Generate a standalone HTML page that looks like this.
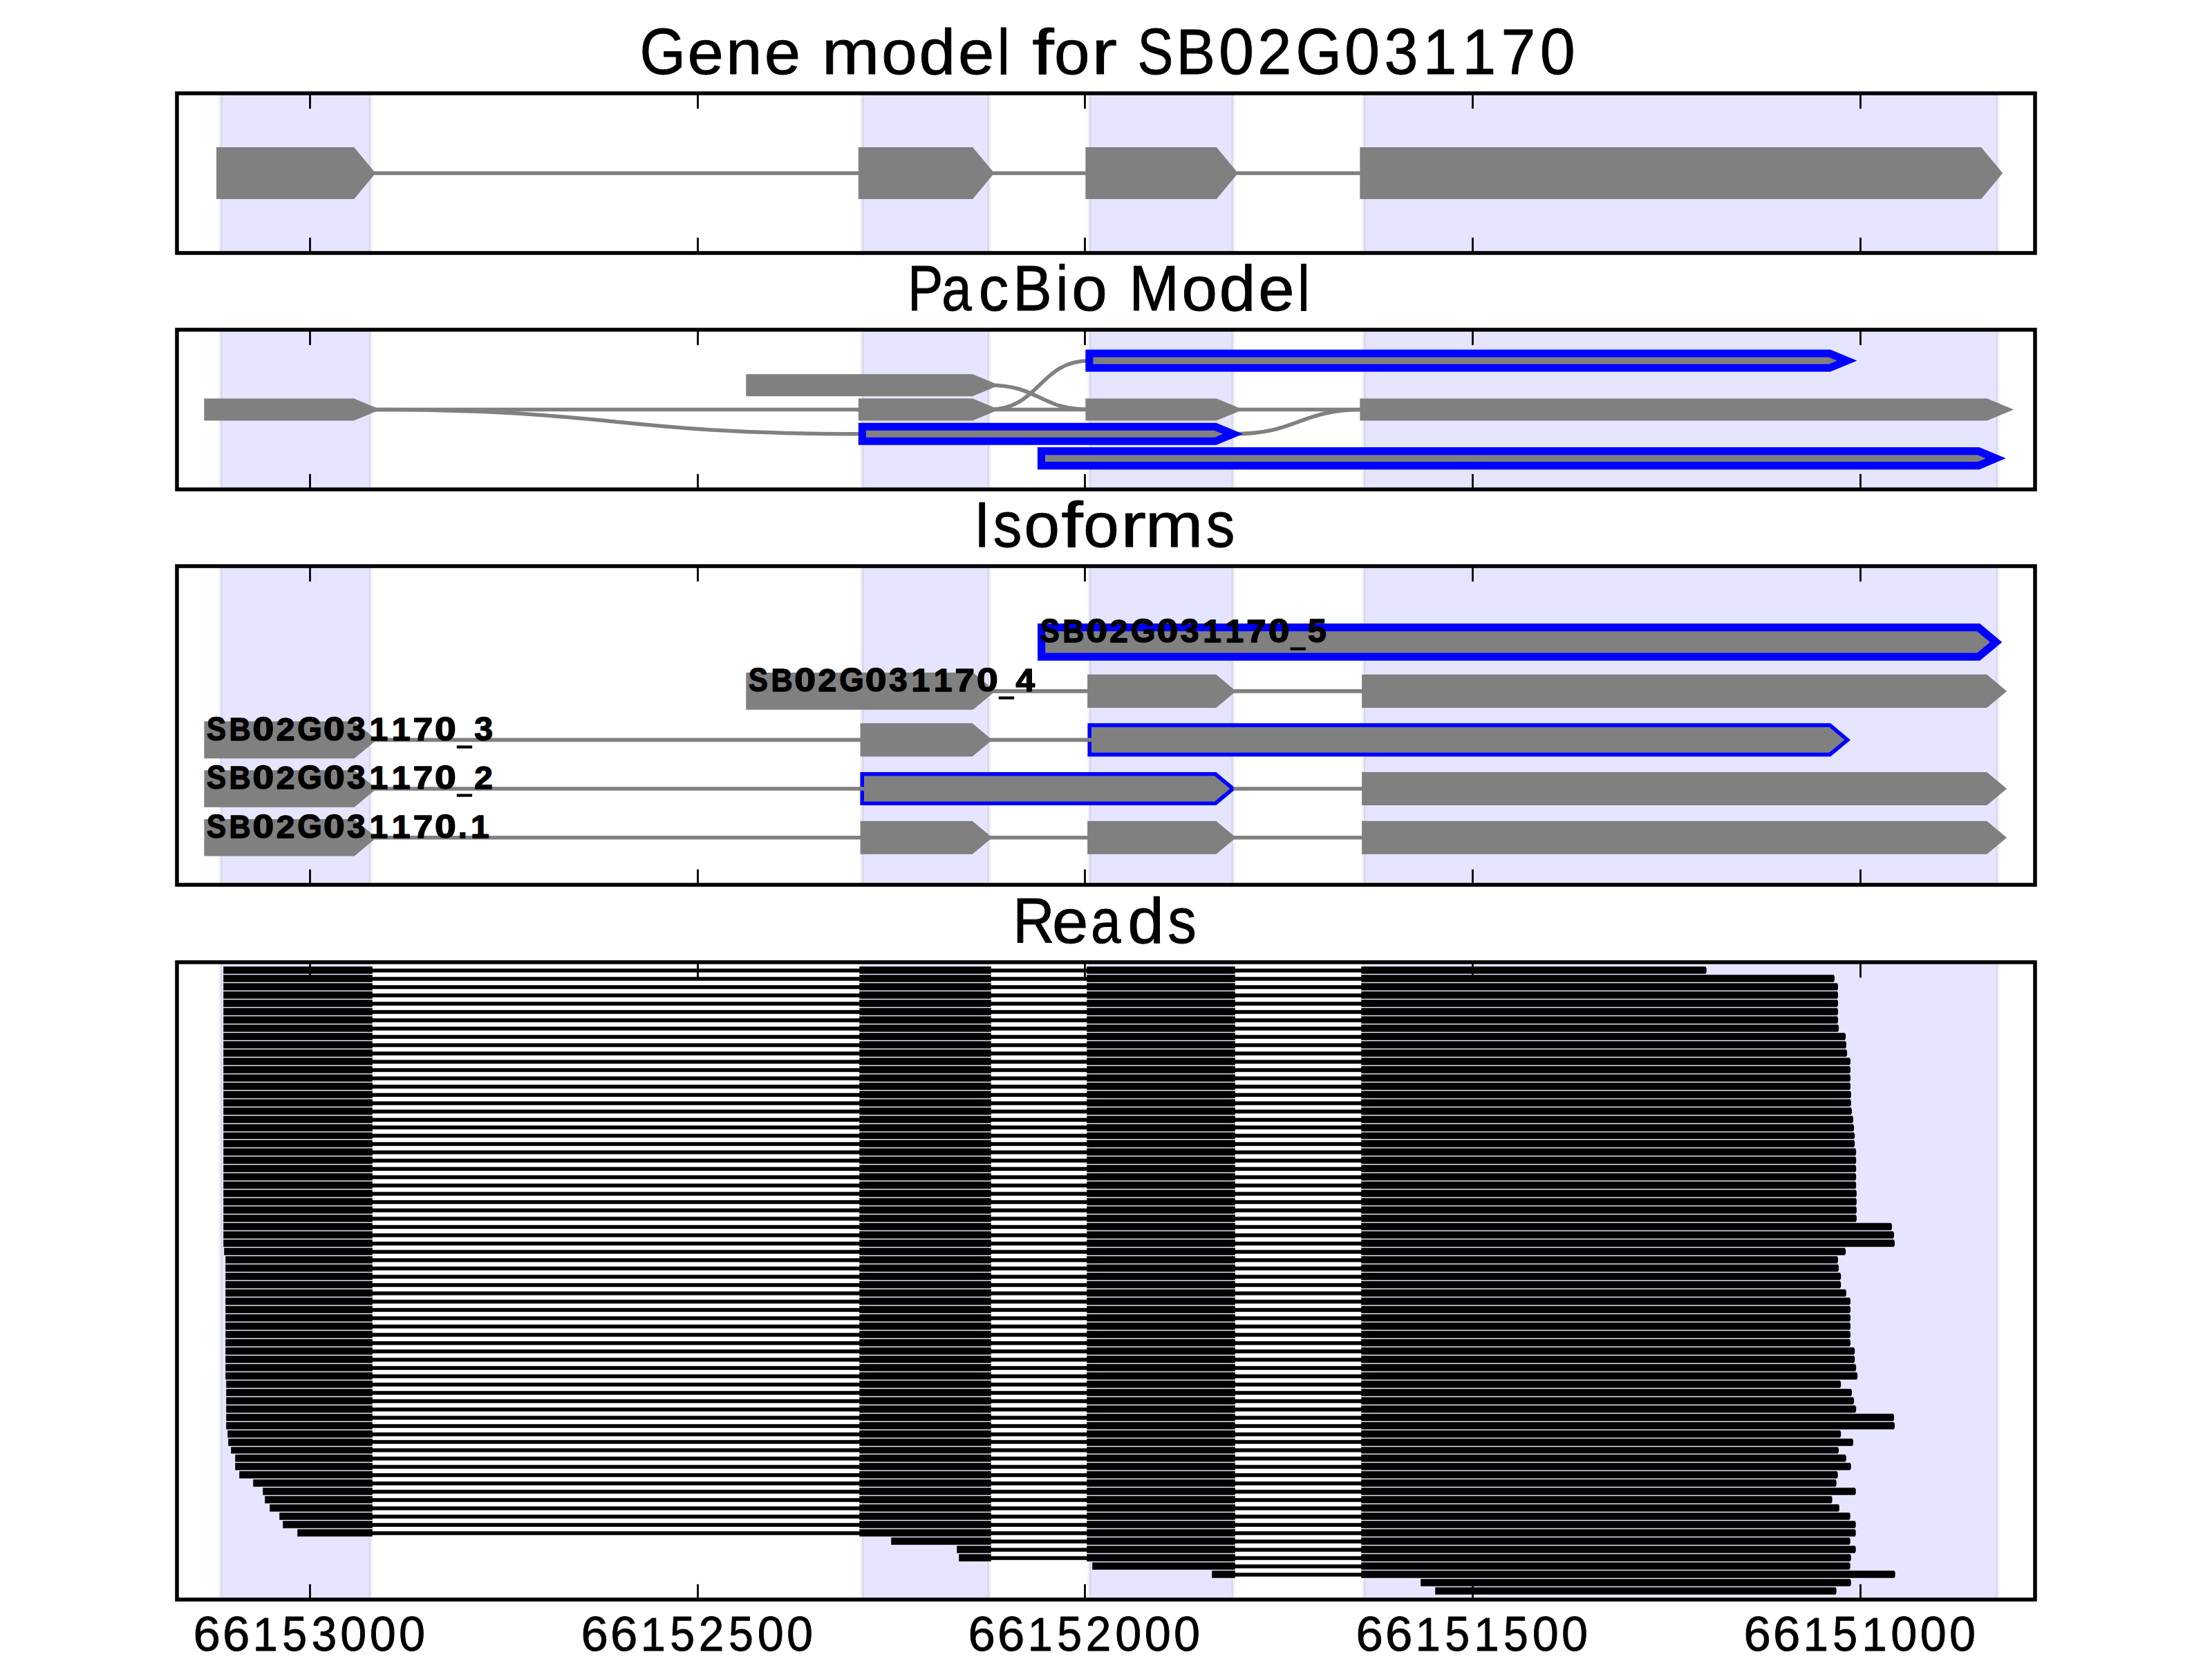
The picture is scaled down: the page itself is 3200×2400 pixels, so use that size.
<!DOCTYPE html>
<html><head><meta charset="utf-8"><title>Gene model for SB02G031170</title>
<style>html,body{margin:0;padding:0;background:#fff}svg{display:block}text{font-family:"Liberation Sans",sans-serif;fill:#000}</style></head><body>
<svg width="3200" height="2400" viewBox="0 0 3200 2400">
<rect width="3200" height="2400" fill="#fff"/>
<defs>
<clipPath id="c0"><rect x="256" y="135" width="2688" height="231"/></clipPath>
<clipPath id="c1"><rect x="256" y="477" width="2688" height="231"/></clipPath>
<clipPath id="c2"><rect x="256" y="819" width="2688" height="461"/></clipPath>
<clipPath id="c3"><rect x="256" y="1392" width="2688" height="922"/></clipPath>
</defs>
<g clip-path="url(#c0)">
<rect x="319" y="135" width="217" height="231" fill="#0000ff" fill-opacity="0.1" stroke="#000" stroke-opacity="0.05" stroke-width="5.56"/>
<rect x="1247" y="135" width="184" height="231" fill="#0000ff" fill-opacity="0.1" stroke="#000" stroke-opacity="0.05" stroke-width="5.56"/>
<rect x="1576" y="135" width="208" height="231" fill="#0000ff" fill-opacity="0.1" stroke="#000" stroke-opacity="0.05" stroke-width="5.56"/>
<rect x="1973" y="135" width="917" height="231" fill="#0000ff" fill-opacity="0.1" stroke="#000" stroke-opacity="0.05" stroke-width="5.56"/>
<path d="M536 250.5 H1247.2" fill="none" stroke="#808080" stroke-width="5.56" stroke-linecap="butt"/>
<path d="M1431 250.5 H1576.2" fill="none" stroke="#808080" stroke-width="5.56" stroke-linecap="butt"/>
<path d="M1783.8 250.5 H1973.2" fill="none" stroke="#808080" stroke-width="5.56" stroke-linecap="butt"/>
<path d="M318.6 218.6 L509.6 218.6 L536.1 250.5 L509.6 282.4 L318.6 282.4 Z" fill="#808080" stroke="#808080" stroke-width="11.11" stroke-linejoin="miter" stroke-miterlimit="10"/>
<path d="M1247.4 218.6 L1404.6 218.6 L1431.1 250.5 L1404.6 282.4 L1247.4 282.4 Z" fill="#808080" stroke="#808080" stroke-width="11.11" stroke-linejoin="miter" stroke-miterlimit="10"/>
<path d="M1575.9 218.6 L1757.3 218.6 L1783.8 250.5 L1757.3 282.4 L1575.9 282.4 Z" fill="#808080" stroke="#808080" stroke-width="11.11" stroke-linejoin="miter" stroke-miterlimit="10"/>
<path d="M1972.9 218.6 L2863.5 218.6 L2890 250.5 L2863.5 282.4 L1972.9 282.4 Z" fill="#808080" stroke="#808080" stroke-width="11.11" stroke-linejoin="miter" stroke-miterlimit="10"/>
</g>
<path d="M448.5 135 v22.22 M448.5 366 v-22.22" stroke="#000" stroke-width="2.78" fill="none"/>
<path d="M1009.5 135 v22.22 M1009.5 366 v-22.22" stroke="#000" stroke-width="2.78" fill="none"/>
<path d="M1569.5 135 v22.22 M1569.5 366 v-22.22" stroke="#000" stroke-width="2.78" fill="none"/>
<path d="M2130.5 135 v22.22 M2130.5 366 v-22.22" stroke="#000" stroke-width="2.78" fill="none"/>
<path d="M2691.5 135 v22.22 M2691.5 366 v-22.22" stroke="#000" stroke-width="2.78" fill="none"/>
<rect x="256" y="135" width="2688" height="231" fill="none" stroke="#000" stroke-width="5.56"/>
<g clip-path="url(#c1)">
<rect x="319" y="477" width="217" height="231" fill="#0000ff" fill-opacity="0.1" stroke="#000" stroke-opacity="0.05" stroke-width="5.56"/>
<rect x="1247" y="477" width="184" height="231" fill="#0000ff" fill-opacity="0.1" stroke="#000" stroke-opacity="0.05" stroke-width="5.56"/>
<rect x="1576" y="477" width="208" height="231" fill="#0000ff" fill-opacity="0.1" stroke="#000" stroke-opacity="0.05" stroke-width="5.56"/>
<rect x="1973" y="477" width="917" height="231" fill="#0000ff" fill-opacity="0.1" stroke="#000" stroke-opacity="0.05" stroke-width="5.56"/>
<path d="M536 592.5 H1247.2" fill="none" stroke="#808080" stroke-width="5.56" stroke-linecap="butt"/>
<path d="M1431 592.5 H1576.2" fill="none" stroke="#808080" stroke-width="5.56" stroke-linecap="butt"/>
<path d="M1783.8 592.5 H1973.2" fill="none" stroke="#808080" stroke-width="5.56" stroke-linecap="butt"/>
<path d="M536 592.5 C891.6 592.5 891.6 627.8 1247.2 627.8" fill="none" stroke="#808080" stroke-width="5.56"/>
<path d="M1431 557.2 C1503.6 557.2 1503.6 592.5 1576.2 592.5" fill="none" stroke="#808080" stroke-width="5.56"/>
<path d="M1431 592.5 C1503.6 592.5 1503.6 521.8 1576.2 521.8" fill="none" stroke="#808080" stroke-width="5.56"/>
<path d="M1783.8 627.8 C1878.5 627.8 1878.5 592.5 1973.2 592.5" fill="none" stroke="#808080" stroke-width="5.56"/>
<path d="M300.9 582 L510.9 582 L536.1 592.5 L510.9 603 L300.9 603 Z" fill="#808080" stroke="#808080" stroke-width="11.11" stroke-linejoin="miter" stroke-miterlimit="10"/>
<path d="M1247.4 582 L1405.9 582 L1431.1 592.5 L1405.9 603 L1247.4 603 Z" fill="#808080" stroke="#808080" stroke-width="11.11" stroke-linejoin="miter" stroke-miterlimit="10"/>
<path d="M1575.9 582 L1758.6 582 L1783.8 592.5 L1758.6 603 L1575.9 603 Z" fill="#808080" stroke="#808080" stroke-width="11.11" stroke-linejoin="miter" stroke-miterlimit="10"/>
<path d="M1972.9 582 L2873.6 582 L2898.8 592.5 L2873.6 603 L1972.9 603 Z" fill="#808080" stroke="#808080" stroke-width="11.11" stroke-linejoin="miter" stroke-miterlimit="10"/>
<path d="M1084.8 546.7 L1405.9 546.7 L1431.1 557.2 L1405.9 567.7 L1084.8 567.7 Z" fill="#808080" stroke="#808080" stroke-width="11.11" stroke-linejoin="miter" stroke-miterlimit="10"/>
<path d="M1575.85 511.3 L2646.85 511.3 L2672.05 521.8 L2646.85 532.3 L1575.85 532.3 Z" fill="#808080" stroke="#0000ff" stroke-width="11.11" stroke-linejoin="miter" stroke-miterlimit="10"/>
<path d="M1247.35 617.3 L1758.35 617.3 L1783.55 627.8 L1758.35 638.3 L1247.35 638.3 Z" fill="#808080" stroke="#0000ff" stroke-width="11.11" stroke-linejoin="miter" stroke-miterlimit="10"/>
<path d="M1506.45 652.6 L2862.15 652.6 L2887.35 663.1 L2862.15 673.6 L1506.45 673.6 Z" fill="#808080" stroke="#0000ff" stroke-width="11.11" stroke-linejoin="miter" stroke-miterlimit="10"/>
</g>
<path d="M448.5 477 v22.22 M448.5 708 v-22.22" stroke="#000" stroke-width="2.78" fill="none"/>
<path d="M1009.5 477 v22.22 M1009.5 708 v-22.22" stroke="#000" stroke-width="2.78" fill="none"/>
<path d="M1569.5 477 v22.22 M1569.5 708 v-22.22" stroke="#000" stroke-width="2.78" fill="none"/>
<path d="M2130.5 477 v22.22 M2130.5 708 v-22.22" stroke="#000" stroke-width="2.78" fill="none"/>
<path d="M2691.5 477 v22.22 M2691.5 708 v-22.22" stroke="#000" stroke-width="2.78" fill="none"/>
<rect x="256" y="477" width="2688" height="231" fill="none" stroke="#000" stroke-width="5.56"/>
<g clip-path="url(#c2)">
<rect x="319" y="819" width="217" height="461" fill="#0000ff" fill-opacity="0.1" stroke="#000" stroke-opacity="0.05" stroke-width="5.56"/>
<rect x="1247" y="819" width="184" height="461" fill="#0000ff" fill-opacity="0.1" stroke="#000" stroke-opacity="0.05" stroke-width="5.56"/>
<rect x="1576" y="819" width="208" height="461" fill="#0000ff" fill-opacity="0.1" stroke="#000" stroke-opacity="0.05" stroke-width="5.56"/>
<rect x="1973" y="819" width="917" height="461" fill="#0000ff" fill-opacity="0.1" stroke="#000" stroke-opacity="0.05" stroke-width="5.56"/>
<path d="M1506.6 907.65 L2862.15 907.65 L2887.65 928.9 L2862.15 950.15 L1506.6 950.15 Z" fill="#808080" stroke="#0000ff" stroke-width="11.11" stroke-linejoin="miter" stroke-miterlimit="10"/>
<path d="M1084.8 978.65 L1405.6 978.65 L1431.1 999.9 L1405.6 1021.15 L1084.8 1021.15 Z" fill="#808080" stroke="#808080" stroke-width="11.11" stroke-linejoin="miter" stroke-miterlimit="10"/>
<path d="M1575.9 978.65 L1758.3 978.65 L1783.8 999.9 L1758.3 1021.15 L1575.9 1021.15 Z" fill="#808080" stroke="#808080" stroke-width="5.56" stroke-linejoin="miter" stroke-miterlimit="10"/>
<path d="M1972.9 978.65 L2873.3 978.65 L2898.8 999.9 L2873.3 1021.15 L1972.9 1021.15 Z" fill="#808080" stroke="#808080" stroke-width="5.56" stroke-linejoin="miter" stroke-miterlimit="10"/>
<path d="M300.9 1049.15 L510.6 1049.15 L536.1 1070.4 L510.6 1091.65 L300.9 1091.65 Z" fill="#808080" stroke="#808080" stroke-width="11.11" stroke-linejoin="miter" stroke-miterlimit="10"/>
<path d="M1247.4 1049.15 L1405.6 1049.15 L1431.1 1070.4 L1405.6 1091.65 L1247.4 1091.65 Z" fill="#808080" stroke="#808080" stroke-width="5.56" stroke-linejoin="miter" stroke-miterlimit="10"/>
<path d="M1576.2 1049.15 L2647.2 1049.15 L2672.7 1070.4 L2647.2 1091.65 L1576.2 1091.65 Z" fill="#808080" stroke="#0000ff" stroke-width="5.56" stroke-linejoin="miter" stroke-miterlimit="10"/>
<path d="M300.9 1119.75 L510.6 1119.75 L536.1 1141 L510.6 1162.25 L300.9 1162.25 Z" fill="#808080" stroke="#808080" stroke-width="11.11" stroke-linejoin="miter" stroke-miterlimit="10"/>
<path d="M1247.2 1119.75 L1758.3 1119.75 L1783.8 1141 L1758.3 1162.25 L1247.2 1162.25 Z" fill="#808080" stroke="#0000ff" stroke-width="5.56" stroke-linejoin="miter" stroke-miterlimit="10"/>
<path d="M1972.9 1119.75 L2873.3 1119.75 L2898.8 1141 L2873.3 1162.25 L1972.9 1162.25 Z" fill="#808080" stroke="#808080" stroke-width="5.56" stroke-linejoin="miter" stroke-miterlimit="10"/>
<path d="M300.9 1190.55 L510.6 1190.55 L536.1 1211.8 L510.6 1233.05 L300.9 1233.05 Z" fill="#808080" stroke="#808080" stroke-width="11.11" stroke-linejoin="miter" stroke-miterlimit="10"/>
<path d="M1247.4 1190.55 L1405.6 1190.55 L1431.1 1211.8 L1405.6 1233.05 L1247.4 1233.05 Z" fill="#808080" stroke="#808080" stroke-width="5.56" stroke-linejoin="miter" stroke-miterlimit="10"/>
<path d="M1575.9 1190.55 L1758.3 1190.55 L1783.8 1211.8 L1758.3 1233.05 L1575.9 1233.05 Z" fill="#808080" stroke="#808080" stroke-width="5.56" stroke-linejoin="miter" stroke-miterlimit="10"/>
<path d="M1972.9 1190.55 L2873.3 1190.55 L2898.8 1211.8 L2873.3 1233.05 L1972.9 1233.05 Z" fill="#808080" stroke="#808080" stroke-width="5.56" stroke-linejoin="miter" stroke-miterlimit="10"/>
<path d="M1431.6 999.9 H1579" fill="none" stroke="#808080" stroke-width="5.56" stroke-linecap="butt"/>
<path d="M1784.4 999.9 H1976" fill="none" stroke="#808080" stroke-width="5.56" stroke-linecap="butt"/>
<path d="M536.6 1070.4 H1250" fill="none" stroke="#808080" stroke-width="5.56" stroke-linecap="butt"/>
<path d="M1431.6 1070.4 H1579" fill="none" stroke="#808080" stroke-width="5.56" stroke-linecap="butt"/>
<path d="M536.6 1141 H1250" fill="none" stroke="#808080" stroke-width="5.56" stroke-linecap="butt"/>
<path d="M1784.4 1141 H1976" fill="none" stroke="#808080" stroke-width="5.56" stroke-linecap="butt"/>
<path d="M536.6 1211.8 H1250" fill="none" stroke="#808080" stroke-width="5.56" stroke-linecap="butt"/>
<path d="M1431.6 1211.8 H1579" fill="none" stroke="#808080" stroke-width="5.56" stroke-linecap="butt"/>
<path d="M1784.4 1211.8 H1976" fill="none" stroke="#808080" stroke-width="5.56" stroke-linecap="butt"/>
<text font-weight="bold" stroke="#000" stroke-width="1.5" stroke-linejoin="round"><tspan x="1504.64" y="929.24" font-size="47.34" textLength="27.98" lengthAdjust="spacingAndGlyphs">S</tspan><tspan x="1537.24" y="929.05" font-size="46.88" textLength="31.12" lengthAdjust="spacingAndGlyphs">B</tspan><tspan x="1571.19" y="929.24" font-size="47.34" textLength="30.74" lengthAdjust="spacingAndGlyphs">0</tspan><tspan x="1605.38" y="929.05" font-size="47.07" textLength="26.6" lengthAdjust="spacingAndGlyphs">2</tspan><tspan x="1636.03" y="929.24" font-size="47.34" textLength="35.48" lengthAdjust="spacingAndGlyphs">G</tspan><tspan x="1673.63" y="929.24" font-size="47.34" textLength="30.74" lengthAdjust="spacingAndGlyphs">0</tspan><tspan x="1707.8" y="929.18" font-size="47.24" textLength="26.78" lengthAdjust="spacingAndGlyphs">3</tspan><tspan x="1740.23" y="929.05" font-size="46.88" textLength="26.66" lengthAdjust="spacingAndGlyphs">1</tspan><tspan x="1772.45" y="929.05" font-size="46.88" textLength="26.66" lengthAdjust="spacingAndGlyphs">1</tspan><tspan x="1803.36" y="929.05" font-size="46.88" textLength="28.37" lengthAdjust="spacingAndGlyphs">7</tspan><tspan x="1834.7" y="929.24" font-size="47.34" textLength="30.74" lengthAdjust="spacingAndGlyphs">0</tspan><tspan x="1867.26" y="931.01" font-size="73.4" textLength="20.95" lengthAdjust="spacingAndGlyphs">_</tspan><tspan x="1892.13" y="929.25" font-size="47.16" textLength="26.73" lengthAdjust="spacingAndGlyphs">5</tspan></text>
<text font-weight="bold" stroke="#000" stroke-width="1.5" stroke-linejoin="round"><tspan x="1082.84" y="1000.24" font-size="47.34" textLength="27.98" lengthAdjust="spacingAndGlyphs">S</tspan><tspan x="1115.44" y="1000.05" font-size="46.88" textLength="31.12" lengthAdjust="spacingAndGlyphs">B</tspan><tspan x="1149.39" y="1000.24" font-size="47.34" textLength="30.74" lengthAdjust="spacingAndGlyphs">0</tspan><tspan x="1183.58" y="1000.05" font-size="47.07" textLength="26.6" lengthAdjust="spacingAndGlyphs">2</tspan><tspan x="1214.23" y="1000.24" font-size="47.34" textLength="35.48" lengthAdjust="spacingAndGlyphs">G</tspan><tspan x="1251.83" y="1000.24" font-size="47.34" textLength="30.74" lengthAdjust="spacingAndGlyphs">0</tspan><tspan x="1286" y="1000.18" font-size="47.24" textLength="26.78" lengthAdjust="spacingAndGlyphs">3</tspan><tspan x="1318.43" y="1000.05" font-size="46.88" textLength="26.66" lengthAdjust="spacingAndGlyphs">1</tspan><tspan x="1350.65" y="1000.05" font-size="46.88" textLength="26.66" lengthAdjust="spacingAndGlyphs">1</tspan><tspan x="1381.56" y="1000.05" font-size="46.88" textLength="28.37" lengthAdjust="spacingAndGlyphs">7</tspan><tspan x="1412.9" y="1000.24" font-size="47.34" textLength="30.74" lengthAdjust="spacingAndGlyphs">0</tspan><tspan x="1445.46" y="1002.01" font-size="73.4" textLength="20.95" lengthAdjust="spacingAndGlyphs">_</tspan><tspan x="1469.57" y="1000.05" font-size="46.88" textLength="27.53" lengthAdjust="spacingAndGlyphs">4</tspan></text>
<text font-weight="bold" stroke="#000" stroke-width="1.5" stroke-linejoin="round"><tspan x="298.94" y="1070.74" font-size="47.34" textLength="27.98" lengthAdjust="spacingAndGlyphs">S</tspan><tspan x="331.54" y="1070.55" font-size="46.88" textLength="31.12" lengthAdjust="spacingAndGlyphs">B</tspan><tspan x="365.49" y="1070.74" font-size="47.34" textLength="30.74" lengthAdjust="spacingAndGlyphs">0</tspan><tspan x="399.68" y="1070.55" font-size="47.07" textLength="26.6" lengthAdjust="spacingAndGlyphs">2</tspan><tspan x="430.33" y="1070.74" font-size="47.34" textLength="35.48" lengthAdjust="spacingAndGlyphs">G</tspan><tspan x="467.93" y="1070.74" font-size="47.34" textLength="30.74" lengthAdjust="spacingAndGlyphs">0</tspan><tspan x="502.1" y="1070.68" font-size="47.24" textLength="26.78" lengthAdjust="spacingAndGlyphs">3</tspan><tspan x="534.53" y="1070.55" font-size="46.88" textLength="26.66" lengthAdjust="spacingAndGlyphs">1</tspan><tspan x="566.75" y="1070.55" font-size="46.88" textLength="26.66" lengthAdjust="spacingAndGlyphs">1</tspan><tspan x="597.66" y="1070.55" font-size="46.88" textLength="28.37" lengthAdjust="spacingAndGlyphs">7</tspan><tspan x="629" y="1070.74" font-size="47.34" textLength="30.74" lengthAdjust="spacingAndGlyphs">0</tspan><tspan x="661.56" y="1072.51" font-size="73.4" textLength="20.95" lengthAdjust="spacingAndGlyphs">_</tspan><tspan x="686.33" y="1070.68" font-size="47.24" textLength="26.78" lengthAdjust="spacingAndGlyphs">3</tspan></text>
<text font-weight="bold" stroke="#000" stroke-width="1.5" stroke-linejoin="round"><tspan x="298.94" y="1141.34" font-size="47.34" textLength="27.98" lengthAdjust="spacingAndGlyphs">S</tspan><tspan x="331.54" y="1141.15" font-size="46.88" textLength="31.12" lengthAdjust="spacingAndGlyphs">B</tspan><tspan x="365.49" y="1141.34" font-size="47.34" textLength="30.74" lengthAdjust="spacingAndGlyphs">0</tspan><tspan x="399.68" y="1141.15" font-size="47.07" textLength="26.6" lengthAdjust="spacingAndGlyphs">2</tspan><tspan x="430.33" y="1141.34" font-size="47.34" textLength="35.48" lengthAdjust="spacingAndGlyphs">G</tspan><tspan x="467.93" y="1141.34" font-size="47.34" textLength="30.74" lengthAdjust="spacingAndGlyphs">0</tspan><tspan x="502.1" y="1141.28" font-size="47.24" textLength="26.78" lengthAdjust="spacingAndGlyphs">3</tspan><tspan x="534.53" y="1141.15" font-size="46.88" textLength="26.66" lengthAdjust="spacingAndGlyphs">1</tspan><tspan x="566.75" y="1141.15" font-size="46.88" textLength="26.66" lengthAdjust="spacingAndGlyphs">1</tspan><tspan x="597.66" y="1141.15" font-size="46.88" textLength="28.37" lengthAdjust="spacingAndGlyphs">7</tspan><tspan x="629" y="1141.34" font-size="47.34" textLength="30.74" lengthAdjust="spacingAndGlyphs">0</tspan><tspan x="661.56" y="1143.11" font-size="73.4" textLength="20.95" lengthAdjust="spacingAndGlyphs">_</tspan><tspan x="686.34" y="1141.15" font-size="47.07" textLength="26.6" lengthAdjust="spacingAndGlyphs">2</tspan></text>
<text font-weight="bold" stroke="#000" stroke-width="1.5" stroke-linejoin="round"><tspan x="298.94" y="1212.14" font-size="47.34" textLength="27.98" lengthAdjust="spacingAndGlyphs">S</tspan><tspan x="331.54" y="1211.95" font-size="46.88" textLength="31.12" lengthAdjust="spacingAndGlyphs">B</tspan><tspan x="365.49" y="1212.14" font-size="47.34" textLength="30.74" lengthAdjust="spacingAndGlyphs">0</tspan><tspan x="399.68" y="1211.95" font-size="47.07" textLength="26.6" lengthAdjust="spacingAndGlyphs">2</tspan><tspan x="430.33" y="1212.14" font-size="47.34" textLength="35.48" lengthAdjust="spacingAndGlyphs">G</tspan><tspan x="467.93" y="1212.14" font-size="47.34" textLength="30.74" lengthAdjust="spacingAndGlyphs">0</tspan><tspan x="502.1" y="1212.08" font-size="47.24" textLength="26.78" lengthAdjust="spacingAndGlyphs">3</tspan><tspan x="534.53" y="1211.95" font-size="46.88" textLength="26.66" lengthAdjust="spacingAndGlyphs">1</tspan><tspan x="566.75" y="1211.95" font-size="46.88" textLength="26.66" lengthAdjust="spacingAndGlyphs">1</tspan><tspan x="597.66" y="1211.95" font-size="46.88" textLength="28.37" lengthAdjust="spacingAndGlyphs">7</tspan><tspan x="629" y="1212.14" font-size="47.34" textLength="30.74" lengthAdjust="spacingAndGlyphs">0</tspan><tspan x="662.72" y="1211.95" font-size="48.68" textLength="13.07" lengthAdjust="spacingAndGlyphs">.</tspan><tspan x="680.98" y="1211.95" font-size="46.88" textLength="26.66" lengthAdjust="spacingAndGlyphs">1</tspan></text>
</g>
<path d="M448.5 819 v22.22 M448.5 1280 v-22.22" stroke="#000" stroke-width="2.78" fill="none"/>
<path d="M1009.5 819 v22.22 M1009.5 1280 v-22.22" stroke="#000" stroke-width="2.78" fill="none"/>
<path d="M1569.5 819 v22.22 M1569.5 1280 v-22.22" stroke="#000" stroke-width="2.78" fill="none"/>
<path d="M2130.5 819 v22.22 M2130.5 1280 v-22.22" stroke="#000" stroke-width="2.78" fill="none"/>
<path d="M2691.5 819 v22.22 M2691.5 1280 v-22.22" stroke="#000" stroke-width="2.78" fill="none"/>
<rect x="256" y="819" width="2688" height="461" fill="none" stroke="#000" stroke-width="5.56"/>
<g clip-path="url(#c3)">
<rect x="319" y="1392" width="217" height="922" fill="#0000ff" fill-opacity="0.1" stroke="#000" stroke-opacity="0.05" stroke-width="5.56"/>
<rect x="1247" y="1392" width="184" height="922" fill="#0000ff" fill-opacity="0.1" stroke="#000" stroke-opacity="0.05" stroke-width="5.56"/>
<rect x="1576" y="1392" width="208" height="922" fill="#0000ff" fill-opacity="0.1" stroke="#000" stroke-opacity="0.05" stroke-width="5.56"/>
<rect x="1973" y="1392" width="917" height="922" fill="#0000ff" fill-opacity="0.1" stroke="#000" stroke-opacity="0.05" stroke-width="5.56"/>
<path d="M323.22 1398.22 H538.78 V1408.78 H323.22 Z M1243.22 1398.22 H1433.78 V1408.78 H1243.22 Z M1572.22 1398.22 H1786.78 V1408.78 H1572.22 Z M1969.22 1398.22 H2467.4 L2468.7 1400.82 V1406.18 L2467.4 1408.78 H1969.22 Z M323.22 1410.22 H538.78 V1420.78 H323.22 Z M1243.22 1410.22 H1433.78 V1420.78 H1243.22 Z M1572.22 1410.22 H1786.78 V1420.78 H1572.22 Z M1969.22 1410.22 H2652.7 L2654 1412.82 V1418.18 L2652.7 1420.78 H1969.22 Z M323.22 1422.22 H538.78 V1432.78 H323.22 Z M1243.22 1422.22 H1433.78 V1432.78 H1243.22 Z M1572.22 1422.22 H1786.78 V1432.78 H1572.22 Z M1969.22 1422.22 H2657.7 L2659 1424.82 V1430.18 L2657.7 1432.78 H1969.22 Z M323.22 1434.22 H538.78 V1444.78 H323.22 Z M1243.22 1434.22 H1433.78 V1444.78 H1243.22 Z M1572.22 1434.22 H1786.78 V1444.78 H1572.22 Z M1969.22 1434.22 H2657.7 L2659 1436.82 V1442.18 L2657.7 1444.78 H1969.22 Z M323.22 1446.22 H538.78 V1456.78 H323.22 Z M1243.22 1446.22 H1433.78 V1456.78 H1243.22 Z M1572.22 1446.22 H1786.78 V1456.78 H1572.22 Z M1969.22 1446.22 H2657.7 L2659 1448.82 V1454.18 L2657.7 1456.78 H1969.22 Z M323.22 1458.22 H538.78 V1468.78 H323.22 Z M1243.22 1458.22 H1433.78 V1468.78 H1243.22 Z M1572.22 1458.22 H1786.78 V1468.78 H1572.22 Z M1969.22 1458.22 H2657.7 L2659 1460.82 V1466.18 L2657.7 1468.78 H1969.22 Z M323.22 1470.22 H538.78 V1480.78 H323.22 Z M1243.22 1470.22 H1433.78 V1480.78 H1243.22 Z M1572.22 1470.22 H1786.78 V1480.78 H1572.22 Z M1969.22 1470.22 H2657.7 L2659 1472.82 V1478.18 L2657.7 1480.78 H1969.22 Z M323.22 1482.22 H538.78 V1492.78 H323.22 Z M1243.22 1482.22 H1433.78 V1492.78 H1243.22 Z M1572.22 1482.22 H1786.78 V1492.78 H1572.22 Z M1969.22 1482.22 H2658.8 L2660.1 1484.82 V1490.18 L2658.8 1492.78 H1969.22 Z M323.22 1494.22 H538.78 V1504.78 H323.22 Z M1243.22 1494.22 H1433.78 V1504.78 H1243.22 Z M1572.22 1494.22 H1786.78 V1504.78 H1572.22 Z M1969.22 1494.22 H2668.8 L2670.1 1496.82 V1502.18 L2668.8 1504.78 H1969.22 Z M323.22 1506.22 H538.78 V1516.78 H323.22 Z M1243.22 1506.22 H1433.78 V1516.78 H1243.22 Z M1572.22 1506.22 H1786.78 V1516.78 H1572.22 Z M1969.22 1506.22 H2669.7 L2671 1508.82 V1514.18 L2669.7 1516.78 H1969.22 Z M323.22 1518.22 H538.78 V1528.78 H323.22 Z M1243.22 1518.22 H1433.78 V1528.78 H1243.22 Z M1572.22 1518.22 H1786.78 V1528.78 H1572.22 Z M1969.22 1518.22 H2670.8 L2672.1 1520.82 V1526.18 L2670.8 1528.78 H1969.22 Z M323.22 1530.22 H538.78 V1540.78 H323.22 Z M1243.22 1530.22 H1433.78 V1540.78 H1243.22 Z M1572.22 1530.22 H1786.78 V1540.78 H1572.22 Z M1969.22 1530.22 H2675.7 L2677 1532.82 V1538.18 L2675.7 1540.78 H1969.22 Z M323.22 1542.22 H538.78 V1552.78 H323.22 Z M1243.22 1542.22 H1433.78 V1552.78 H1243.22 Z M1572.22 1542.22 H1786.78 V1552.78 H1572.22 Z M1969.22 1542.22 H2675.7 L2677 1544.82 V1550.18 L2675.7 1552.78 H1969.22 Z M323.22 1554.22 H538.78 V1564.78 H323.22 Z M1243.22 1554.22 H1433.78 V1564.78 H1243.22 Z M1572.22 1554.22 H1786.78 V1564.78 H1572.22 Z M1969.22 1554.22 H2675.7 L2677 1556.82 V1562.18 L2675.7 1564.78 H1969.22 Z M323.22 1566.22 H538.78 V1576.78 H323.22 Z M1243.22 1566.22 H1433.78 V1576.78 H1243.22 Z M1572.22 1566.22 H1786.78 V1576.78 H1572.22 Z M1969.22 1566.22 H2675.7 L2677 1568.82 V1574.18 L2675.7 1576.78 H1969.22 Z M323.22 1578.22 H538.78 V1588.78 H323.22 Z M1243.22 1578.22 H1433.78 V1588.78 H1243.22 Z M1572.22 1578.22 H1786.78 V1588.78 H1572.22 Z M1969.22 1578.22 H2676.6 L2677.9 1580.82 V1586.18 L2676.6 1588.78 H1969.22 Z M323.22 1590.22 H538.78 V1600.78 H323.22 Z M1243.22 1590.22 H1433.78 V1600.78 H1243.22 Z M1572.22 1590.22 H1786.78 V1600.78 H1572.22 Z M1969.22 1590.22 H2676.6 L2677.9 1592.82 V1598.18 L2676.6 1600.78 H1969.22 Z M323.22 1602.22 H538.78 V1612.78 H323.22 Z M1243.22 1602.22 H1433.78 V1612.78 H1243.22 Z M1572.22 1602.22 H1786.78 V1612.78 H1572.22 Z M1969.22 1602.22 H2677.7 L2679 1604.82 V1610.18 L2677.7 1612.78 H1969.22 Z M323.22 1614.22 H538.78 V1624.78 H323.22 Z M1243.22 1614.22 H1433.78 V1624.78 H1243.22 Z M1572.22 1614.22 H1786.78 V1624.78 H1572.22 Z M1969.22 1614.22 H2679.7 L2681 1616.82 V1622.18 L2679.7 1624.78 H1969.22 Z M323.22 1626.22 H538.78 V1636.78 H323.22 Z M1243.22 1626.22 H1433.78 V1636.78 H1243.22 Z M1572.22 1626.22 H1786.78 V1636.78 H1572.22 Z M1969.22 1626.22 H2680.8 L2682.1 1628.82 V1634.18 L2680.8 1636.78 H1969.22 Z M323.22 1638.22 H538.78 V1647.78 H323.22 Z M1243.22 1638.22 H1433.78 V1647.78 H1243.22 Z M1572.22 1638.22 H1786.78 V1647.78 H1572.22 Z M1969.22 1638.22 H2681.9 L2683.2 1640.82 V1645.18 L2681.9 1647.78 H1969.22 Z M323.22 1649.22 H538.78 V1659.78 H323.22 Z M1243.22 1649.22 H1433.78 V1659.78 H1243.22 Z M1572.22 1649.22 H1786.78 V1659.78 H1572.22 Z M1969.22 1649.22 H2681.9 L2683.2 1651.82 V1657.18 L2681.9 1659.78 H1969.22 Z M323.22 1661.22 H538.78 V1671.78 H323.22 Z M1243.22 1661.22 H1433.78 V1671.78 H1243.22 Z M1572.22 1661.22 H1786.78 V1671.78 H1572.22 Z M1969.22 1661.22 H2683.9 L2685.2 1663.82 V1669.18 L2683.9 1671.78 H1969.22 Z M323.22 1673.22 H538.78 V1683.78 H323.22 Z M1243.22 1673.22 H1433.78 V1683.78 H1243.22 Z M1572.22 1673.22 H1786.78 V1683.78 H1572.22 Z M1969.22 1673.22 H2683.9 L2685.2 1675.82 V1681.18 L2683.9 1683.78 H1969.22 Z M323.22 1685.22 H538.78 V1695.78 H323.22 Z M1243.22 1685.22 H1433.78 V1695.78 H1243.22 Z M1572.22 1685.22 H1786.78 V1695.78 H1572.22 Z M1969.22 1685.22 H2683.9 L2685.2 1687.82 V1693.18 L2683.9 1695.78 H1969.22 Z M323.22 1697.22 H538.78 V1707.78 H323.22 Z M1243.22 1697.22 H1433.78 V1707.78 H1243.22 Z M1572.22 1697.22 H1786.78 V1707.78 H1572.22 Z M1969.22 1697.22 H2683.9 L2685.2 1699.82 V1705.18 L2683.9 1707.78 H1969.22 Z M323.22 1709.22 H538.78 V1719.78 H323.22 Z M1243.22 1709.22 H1433.78 V1719.78 H1243.22 Z M1572.22 1709.22 H1786.78 V1719.78 H1572.22 Z M1969.22 1709.22 H2683.9 L2685.2 1711.82 V1717.18 L2683.9 1719.78 H1969.22 Z M323.22 1721.22 H538.78 V1731.78 H323.22 Z M1243.22 1721.22 H1433.78 V1731.78 H1243.22 Z M1572.22 1721.22 H1786.78 V1731.78 H1572.22 Z M1969.22 1721.22 H2684.6 L2685.9 1723.82 V1729.18 L2684.6 1731.78 H1969.22 Z M323.22 1733.22 H538.78 V1743.78 H323.22 Z M1243.22 1733.22 H1433.78 V1743.78 H1243.22 Z M1572.22 1733.22 H1786.78 V1743.78 H1572.22 Z M1969.22 1733.22 H2684.6 L2685.9 1735.82 V1741.18 L2684.6 1743.78 H1969.22 Z M323.22 1745.22 H538.78 V1755.78 H323.22 Z M1243.22 1745.22 H1433.78 V1755.78 H1243.22 Z M1572.22 1745.22 H1786.78 V1755.78 H1572.22 Z M1969.22 1745.22 H2684.6 L2685.9 1747.82 V1753.18 L2684.6 1755.78 H1969.22 Z M323.22 1757.22 H538.78 V1767.78 H323.22 Z M1243.22 1757.22 H1433.78 V1767.78 H1243.22 Z M1572.22 1757.22 H1786.78 V1767.78 H1572.22 Z M1969.22 1757.22 H2684.6 L2685.9 1759.82 V1765.18 L2684.6 1767.78 H1969.22 Z M323.22 1769.22 H538.78 V1779.78 H323.22 Z M1243.22 1769.22 H1433.78 V1779.78 H1243.22 Z M1572.22 1769.22 H1786.78 V1779.78 H1572.22 Z M1969.22 1769.22 H2735.7 L2737 1771.82 V1777.18 L2735.7 1779.78 H1969.22 Z M323.22 1781.22 H538.78 V1791.78 H323.22 Z M1243.22 1781.22 H1433.78 V1791.78 H1243.22 Z M1572.22 1781.22 H1786.78 V1791.78 H1572.22 Z M1969.22 1781.22 H2738.7 L2740 1783.82 V1789.18 L2738.7 1791.78 H1969.22 Z M323.22 1793.22 H538.78 V1803.78 H323.22 Z M1243.22 1793.22 H1433.78 V1803.78 H1243.22 Z M1572.22 1793.22 H1786.78 V1803.78 H1572.22 Z M1969.22 1793.22 H2739.7 L2741 1795.82 V1801.18 L2739.7 1803.78 H1969.22 Z M324.22 1805.22 H538.78 V1815.78 H324.22 Z M1243.22 1805.22 H1433.78 V1815.78 H1243.22 Z M1572.22 1805.22 H1786.78 V1815.78 H1572.22 Z M1969.22 1805.22 H2668.8 L2670.1 1807.82 V1813.18 L2668.8 1815.78 H1969.22 Z M326.22 1817.22 H538.78 V1827.78 H326.22 Z M1243.22 1817.22 H1433.78 V1827.78 H1243.22 Z M1572.22 1817.22 H1786.78 V1827.78 H1572.22 Z M1969.22 1817.22 H2657.7 L2659 1819.82 V1825.18 L2657.7 1827.78 H1969.22 Z M326.22 1829.22 H538.78 V1839.78 H326.22 Z M1243.22 1829.22 H1433.78 V1839.78 H1243.22 Z M1572.22 1829.22 H1786.78 V1839.78 H1572.22 Z M1969.22 1829.22 H2658.8 L2660.1 1831.82 V1837.18 L2658.8 1839.78 H1969.22 Z M326.22 1841.22 H538.78 V1851.78 H326.22 Z M1243.22 1841.22 H1433.78 V1851.78 H1243.22 Z M1572.22 1841.22 H1786.78 V1851.78 H1572.22 Z M1969.22 1841.22 H2661.9 L2663.2 1843.82 V1849.18 L2661.9 1851.78 H1969.22 Z M326.22 1853.22 H538.78 V1863.78 H326.22 Z M1243.22 1853.22 H1433.78 V1863.78 H1243.22 Z M1572.22 1853.22 H1786.78 V1863.78 H1572.22 Z M1969.22 1853.22 H2661.9 L2663.2 1855.82 V1861.18 L2661.9 1863.78 H1969.22 Z M326.22 1865.22 H538.78 V1875.78 H326.22 Z M1243.22 1865.22 H1433.78 V1875.78 H1243.22 Z M1572.22 1865.22 H1786.78 V1875.78 H1572.22 Z M1969.22 1865.22 H2669.7 L2671 1867.82 V1873.18 L2669.7 1875.78 H1969.22 Z M326.22 1877.22 H538.78 V1887.78 H326.22 Z M1243.22 1877.22 H1433.78 V1887.78 H1243.22 Z M1572.22 1877.22 H1786.78 V1887.78 H1572.22 Z M1969.22 1877.22 H2675.7 L2677 1879.82 V1885.18 L2675.7 1887.78 H1969.22 Z M326.22 1889.22 H538.78 V1899.78 H326.22 Z M1243.22 1889.22 H1433.78 V1899.78 H1243.22 Z M1572.22 1889.22 H1786.78 V1899.78 H1572.22 Z M1969.22 1889.22 H2675.7 L2677 1891.82 V1897.18 L2675.7 1899.78 H1969.22 Z M326.22 1901.22 H538.78 V1911.78 H326.22 Z M1243.22 1901.22 H1433.78 V1911.78 H1243.22 Z M1572.22 1901.22 H1786.78 V1911.78 H1572.22 Z M1969.22 1901.22 H2675.7 L2677 1903.82 V1909.18 L2675.7 1911.78 H1969.22 Z M326.22 1913.22 H538.78 V1923.78 H326.22 Z M1243.22 1913.22 H1433.78 V1923.78 H1243.22 Z M1572.22 1913.22 H1786.78 V1923.78 H1572.22 Z M1969.22 1913.22 H2675.7 L2677 1915.82 V1921.18 L2675.7 1923.78 H1969.22 Z M326.22 1925.22 H538.78 V1935.78 H326.22 Z M1243.22 1925.22 H1433.78 V1935.78 H1243.22 Z M1572.22 1925.22 H1786.78 V1935.78 H1572.22 Z M1969.22 1925.22 H2675.7 L2677 1927.82 V1933.18 L2675.7 1935.78 H1969.22 Z M326.22 1937.22 H538.78 V1947.78 H326.22 Z M1243.22 1937.22 H1433.78 V1947.78 H1243.22 Z M1572.22 1937.22 H1786.78 V1947.78 H1572.22 Z M1969.22 1937.22 H2675.7 L2677 1939.82 V1945.18 L2675.7 1947.78 H1969.22 Z M326.22 1949.22 H538.78 V1959.78 H326.22 Z M1243.22 1949.22 H1433.78 V1959.78 H1243.22 Z M1572.22 1949.22 H1786.78 V1959.78 H1572.22 Z M1969.22 1949.22 H2681.9 L2683.2 1951.82 V1957.18 L2681.9 1959.78 H1969.22 Z M326.22 1961.22 H538.78 V1971.78 H326.22 Z M1243.22 1961.22 H1433.78 V1971.78 H1243.22 Z M1572.22 1961.22 H1786.78 V1971.78 H1572.22 Z M1969.22 1961.22 H2681.9 L2683.2 1963.82 V1969.18 L2681.9 1971.78 H1969.22 Z M326.22 1973.22 H538.78 V1983.78 H326.22 Z M1243.22 1973.22 H1433.78 V1983.78 H1243.22 Z M1572.22 1973.22 H1786.78 V1983.78 H1572.22 Z M1969.22 1973.22 H2683.9 L2685.2 1975.82 V1981.18 L2683.9 1983.78 H1969.22 Z M326.22 1985.22 H538.78 V1995.78 H326.22 Z M1243.22 1985.22 H1433.78 V1995.78 H1243.22 Z M1572.22 1985.22 H1786.78 V1995.78 H1572.22 Z M1969.22 1985.22 H2685.9 L2687.2 1987.82 V1993.18 L2685.9 1995.78 H1969.22 Z M327.22 1997.22 H538.78 V2007.78 H327.22 Z M1243.22 1997.22 H1433.78 V2007.78 H1243.22 Z M1572.22 1997.22 H1786.78 V2007.78 H1572.22 Z M1969.22 1997.22 H2661.9 L2663.2 1999.82 V2005.18 L2661.9 2007.78 H1969.22 Z M327.22 2009.22 H538.78 V2019.78 H327.22 Z M1243.22 2009.22 H1433.78 V2019.78 H1243.22 Z M1572.22 2009.22 H1786.78 V2019.78 H1572.22 Z M1969.22 2009.22 H2677.7 L2679 2011.82 V2017.18 L2677.7 2019.78 H1969.22 Z M327.22 2021.22 H538.78 V2031.78 H327.22 Z M1243.22 2021.22 H1433.78 V2031.78 H1243.22 Z M1572.22 2021.22 H1786.78 V2031.78 H1572.22 Z M1969.22 2021.22 H2680.8 L2682.1 2023.82 V2029.18 L2680.8 2031.78 H1969.22 Z M327.22 2033.22 H538.78 V2043.78 H327.22 Z M1243.22 2033.22 H1433.78 V2043.78 H1243.22 Z M1572.22 2033.22 H1786.78 V2043.78 H1572.22 Z M1969.22 2033.22 H2683.9 L2685.2 2035.82 V2041.18 L2683.9 2043.78 H1969.22 Z M327.22 2045.22 H538.78 V2055.78 H327.22 Z M1243.22 2045.22 H1433.78 V2055.78 H1243.22 Z M1572.22 2045.22 H1786.78 V2055.78 H1572.22 Z M1969.22 2045.22 H2738.7 L2740 2047.82 V2053.18 L2738.7 2055.78 H1969.22 Z M327.22 2057.22 H538.78 V2067.78 H327.22 Z M1243.22 2057.22 H1433.78 V2067.78 H1243.22 Z M1572.22 2057.22 H1786.78 V2067.78 H1572.22 Z M1969.22 2057.22 H2739.7 L2741 2059.82 V2065.18 L2739.7 2067.78 H1969.22 Z M329.22 2069.22 H538.78 V2079.78 H329.22 Z M1243.22 2069.22 H1433.78 V2079.78 H1243.22 Z M1572.22 2069.22 H1786.78 V2079.78 H1572.22 Z M1969.22 2069.22 H2661.9 L2663.2 2071.82 V2077.18 L2661.9 2079.78 H1969.22 Z M330.22 2081.22 H538.78 V2091.78 H330.22 Z M1243.22 2081.22 H1433.78 V2091.78 H1243.22 Z M1572.22 2081.22 H1786.78 V2091.78 H1572.22 Z M1969.22 2081.22 H2679.7 L2681 2083.82 V2089.18 L2679.7 2091.78 H1969.22 Z M334.22 2093.22 H538.78 V2102.78 H334.22 Z M1243.22 2093.22 H1433.78 V2102.78 H1243.22 Z M1572.22 2093.22 H1786.78 V2102.78 H1572.22 Z M1969.22 2093.22 H2658.7 L2660 2095.82 V2100.18 L2658.7 2102.78 H1969.22 Z M340.22 2104.22 H538.78 V2114.78 H340.22 Z M1243.22 2104.22 H1433.78 V2114.78 H1243.22 Z M1572.22 2104.22 H1786.78 V2114.78 H1572.22 Z M1969.22 2104.22 H2669.5 L2670.8 2106.82 V2112.18 L2669.5 2114.78 H1969.22 Z M340.22 2116.22 H538.78 V2126.78 H340.22 Z M1243.22 2116.22 H1433.78 V2126.78 H1243.22 Z M1572.22 2116.22 H1786.78 V2126.78 H1572.22 Z M1969.22 2116.22 H2676.5 L2677.8 2118.82 V2124.18 L2676.5 2126.78 H1969.22 Z M346.22 2128.22 H538.78 V2138.78 H346.22 Z M1243.22 2128.22 H1433.78 V2138.78 H1243.22 Z M1572.22 2128.22 H1786.78 V2138.78 H1572.22 Z M1969.22 2128.22 H2657.4 L2658.7 2130.82 V2136.18 L2657.4 2138.78 H1969.22 Z M366.22 2140.22 H538.78 V2150.78 H366.22 Z M1243.22 2140.22 H1433.78 V2150.78 H1243.22 Z M1572.22 2140.22 H1786.78 V2150.78 H1572.22 Z M1969.22 2140.22 H2655.4 L2656.7 2142.82 V2148.18 L2655.4 2150.78 H1969.22 Z M380.22 2152.22 H538.78 V2162.78 H380.22 Z M1243.22 2152.22 H1433.78 V2162.78 H1243.22 Z M1572.22 2152.22 H1786.78 V2162.78 H1572.22 Z M1969.22 2152.22 H2683.4 L2684.7 2154.82 V2160.18 L2683.4 2162.78 H1969.22 Z M383.22 2164.22 H538.78 V2174.78 H383.22 Z M1243.22 2164.22 H1433.78 V2174.78 H1243.22 Z M1572.22 2164.22 H1786.78 V2174.78 H1572.22 Z M1969.22 2164.22 H2649.3 L2650.6 2166.82 V2172.18 L2649.3 2174.78 H1969.22 Z M390.22 2176.22 H538.78 V2186.78 H390.22 Z M1243.22 2176.22 H1433.78 V2186.78 H1243.22 Z M1572.22 2176.22 H1786.78 V2186.78 H1572.22 Z M1969.22 2176.22 H2659.6 L2660.9 2178.82 V2184.18 L2659.6 2186.78 H1969.22 Z M404.22 2188.22 H538.78 V2198.78 H404.22 Z M1243.22 2188.22 H1433.78 V2198.78 H1243.22 Z M1572.22 2188.22 H1786.78 V2198.78 H1572.22 Z M1969.22 2188.22 H2675.4 L2676.7 2190.82 V2196.18 L2675.4 2198.78 H1969.22 Z M409.22 2200.22 H538.78 V2210.78 H409.22 Z M1243.22 2200.22 H1433.78 V2210.78 H1243.22 Z M1572.22 2200.22 H1786.78 V2210.78 H1572.22 Z M1969.22 2200.22 H2683.4 L2684.7 2202.82 V2208.18 L2683.4 2210.78 H1969.22 Z M430.22 2212.22 H538.78 V2222.78 H430.22 Z M1243.22 2212.22 H1433.78 V2222.78 H1243.22 Z M1572.22 2212.22 H1786.78 V2222.78 H1572.22 Z M1969.22 2212.22 H2683.4 L2684.7 2214.82 V2220.18 L2683.4 2222.78 H1969.22 Z M1289.22 2224.22 H1433.78 V2234.78 H1289.22 Z M1572.22 2224.22 H1786.78 V2234.78 H1572.22 Z M1969.22 2224.22 H2675.4 L2676.7 2226.82 V2232.18 L2675.4 2234.78 H1969.22 Z M1384.22 2236.22 H1433.78 V2246.78 H1384.22 Z M1572.22 2236.22 H1786.78 V2246.78 H1572.22 Z M1969.22 2236.22 H2683.4 L2684.7 2238.82 V2244.18 L2683.4 2246.78 H1969.22 Z M1387.22 2248.22 H1433.78 V2258.78 H1387.22 Z M1572.22 2248.22 H1786.78 V2258.78 H1572.22 Z M1969.22 2248.22 H2676.5 L2677.8 2250.82 V2256.18 L2676.5 2258.78 H1969.22 Z M1580.22 2260.22 H1786.78 V2270.78 H1580.22 Z M1969.22 2260.22 H2675.4 L2676.7 2262.82 V2268.18 L2675.4 2270.78 H1969.22 Z M1753.22 2272.22 H1786.78 V2282.78 H1753.22 Z M1969.22 2272.22 H2740.4 L2741.7 2274.82 V2280.18 L2740.4 2282.78 H1969.22 Z M2055.22 2284.22 H2676.5 L2677.8 2286.82 V2292.18 L2676.5 2294.78 H2055.22 Z M2076.22 2296.22 H2655.4 L2656.7 2298.82 V2304.18 L2655.4 2306.78 H2076.22 Z" fill="#000"/>
<path d="M537.78 1404 H1244.22 M1432.78 1404 H1573.22 M1785.78 1404 H1970.22 M537.78 1416 H1244.22 M1432.78 1416 H1573.22 M1785.78 1416 H1970.22 M537.78 1428 H1244.22 M1432.78 1428 H1573.22 M1785.78 1428 H1970.22 M537.78 1440 H1244.22 M1432.78 1440 H1573.22 M1785.78 1440 H1970.22 M537.78 1452 H1244.22 M1432.78 1452 H1573.22 M1785.78 1452 H1970.22 M537.78 1464 H1244.22 M1432.78 1464 H1573.22 M1785.78 1464 H1970.22 M537.78 1476 H1244.22 M1432.78 1476 H1573.22 M1785.78 1476 H1970.22 M537.78 1488 H1244.22 M1432.78 1488 H1573.22 M1785.78 1488 H1970.22 M537.78 1500 H1244.22 M1432.78 1500 H1573.22 M1785.78 1500 H1970.22 M537.78 1512 H1244.22 M1432.78 1512 H1573.22 M1785.78 1512 H1970.22 M537.78 1524 H1244.22 M1432.78 1524 H1573.22 M1785.78 1524 H1970.22 M537.78 1536 H1244.22 M1432.78 1536 H1573.22 M1785.78 1536 H1970.22 M537.78 1548 H1244.22 M1432.78 1548 H1573.22 M1785.78 1548 H1970.22 M537.78 1560 H1244.22 M1432.78 1560 H1573.22 M1785.78 1560 H1970.22 M537.78 1572 H1244.22 M1432.78 1572 H1573.22 M1785.78 1572 H1970.22 M537.78 1584 H1244.22 M1432.78 1584 H1573.22 M1785.78 1584 H1970.22 M537.78 1596 H1244.22 M1432.78 1596 H1573.22 M1785.78 1596 H1970.22 M537.78 1608 H1244.22 M1432.78 1608 H1573.22 M1785.78 1608 H1970.22 M537.78 1620 H1244.22 M1432.78 1620 H1573.22 M1785.78 1620 H1970.22 M537.78 1631 H1244.22 M1432.78 1631 H1573.22 M1785.78 1631 H1970.22 M537.78 1643 H1244.22 M1432.78 1643 H1573.22 M1785.78 1643 H1970.22 M537.78 1655 H1244.22 M1432.78 1655 H1573.22 M1785.78 1655 H1970.22 M537.78 1667 H1244.22 M1432.78 1667 H1573.22 M1785.78 1667 H1970.22 M537.78 1679 H1244.22 M1432.78 1679 H1573.22 M1785.78 1679 H1970.22 M537.78 1691 H1244.22 M1432.78 1691 H1573.22 M1785.78 1691 H1970.22 M537.78 1703 H1244.22 M1432.78 1703 H1573.22 M1785.78 1703 H1970.22 M537.78 1715 H1244.22 M1432.78 1715 H1573.22 M1785.78 1715 H1970.22 M537.78 1727 H1244.22 M1432.78 1727 H1573.22 M1785.78 1727 H1970.22 M537.78 1739 H1244.22 M1432.78 1739 H1573.22 M1785.78 1739 H1970.22 M537.78 1751 H1244.22 M1432.78 1751 H1573.22 M1785.78 1751 H1970.22 M537.78 1763 H1244.22 M1432.78 1763 H1573.22 M1785.78 1763 H1970.22 M537.78 1775 H1244.22 M1432.78 1775 H1573.22 M1785.78 1775 H1970.22 M537.78 1787 H1244.22 M1432.78 1787 H1573.22 M1785.78 1787 H1970.22 M537.78 1799 H1244.22 M1432.78 1799 H1573.22 M1785.78 1799 H1970.22 M537.78 1811 H1244.22 M1432.78 1811 H1573.22 M1785.78 1811 H1970.22 M537.78 1823 H1244.22 M1432.78 1823 H1573.22 M1785.78 1823 H1970.22 M537.78 1835 H1244.22 M1432.78 1835 H1573.22 M1785.78 1835 H1970.22 M537.78 1847 H1244.22 M1432.78 1847 H1573.22 M1785.78 1847 H1970.22 M537.78 1859 H1244.22 M1432.78 1859 H1573.22 M1785.78 1859 H1970.22 M537.78 1871 H1244.22 M1432.78 1871 H1573.22 M1785.78 1871 H1970.22 M537.78 1883 H1244.22 M1432.78 1883 H1573.22 M1785.78 1883 H1970.22 M537.78 1895 H1244.22 M1432.78 1895 H1573.22 M1785.78 1895 H1970.22 M537.78 1907 H1244.22 M1432.78 1907 H1573.22 M1785.78 1907 H1970.22 M537.78 1919 H1244.22 M1432.78 1919 H1573.22 M1785.78 1919 H1970.22 M537.78 1931 H1244.22 M1432.78 1931 H1573.22 M1785.78 1931 H1970.22 M537.78 1943 H1244.22 M1432.78 1943 H1573.22 M1785.78 1943 H1970.22 M537.78 1955 H1244.22 M1432.78 1955 H1573.22 M1785.78 1955 H1970.22 M537.78 1967 H1244.22 M1432.78 1967 H1573.22 M1785.78 1967 H1970.22 M537.78 1979 H1244.22 M1432.78 1979 H1573.22 M1785.78 1979 H1970.22 M537.78 1991 H1244.22 M1432.78 1991 H1573.22 M1785.78 1991 H1970.22 M537.78 2003 H1244.22 M1432.78 2003 H1573.22 M1785.78 2003 H1970.22 M537.78 2015 H1244.22 M1432.78 2015 H1573.22 M1785.78 2015 H1970.22 M537.78 2027 H1244.22 M1432.78 2027 H1573.22 M1785.78 2027 H1970.22 M537.78 2039 H1244.22 M1432.78 2039 H1573.22 M1785.78 2039 H1970.22 M537.78 2051 H1244.22 M1432.78 2051 H1573.22 M1785.78 2051 H1970.22 M537.78 2063 H1244.22 M1432.78 2063 H1573.22 M1785.78 2063 H1970.22 M537.78 2075 H1244.22 M1432.78 2075 H1573.22 M1785.78 2075 H1970.22 M537.78 2086 H1244.22 M1432.78 2086 H1573.22 M1785.78 2086 H1970.22 M537.78 2098 H1244.22 M1432.78 2098 H1573.22 M1785.78 2098 H1970.22 M537.78 2110 H1244.22 M1432.78 2110 H1573.22 M1785.78 2110 H1970.22 M537.78 2122 H1244.22 M1432.78 2122 H1573.22 M1785.78 2122 H1970.22 M537.78 2134 H1244.22 M1432.78 2134 H1573.22 M1785.78 2134 H1970.22 M537.78 2146 H1244.22 M1432.78 2146 H1573.22 M1785.78 2146 H1970.22 M537.78 2158 H1244.22 M1432.78 2158 H1573.22 M1785.78 2158 H1970.22 M537.78 2170 H1244.22 M1432.78 2170 H1573.22 M1785.78 2170 H1970.22 M537.78 2182 H1244.22 M1432.78 2182 H1573.22 M1785.78 2182 H1970.22 M537.78 2194 H1244.22 M1432.78 2194 H1573.22 M1785.78 2194 H1970.22 M537.78 2206 H1244.22 M1432.78 2206 H1573.22 M1785.78 2206 H1970.22 M537.78 2218 H1244.22 M1432.78 2218 H1573.22 M1785.78 2218 H1970.22 M1432.78 2230 H1573.22 M1785.78 2230 H1970.22 M1432.78 2242 H1573.22 M1785.78 2242 H1970.22 M1432.78 2254 H1573.22 M1785.78 2254 H1970.22 M1785.78 2266 H1970.22 M1785.78 2278 H1970.22" fill="none" stroke="#000" stroke-width="5.56"/>
</g>
<path d="M448.5 1392 v22.22 M448.5 2314 v-22.22" stroke="#000" stroke-width="2.78" fill="none"/>
<path d="M1009.5 1392 v22.22 M1009.5 2314 v-22.22" stroke="#000" stroke-width="2.78" fill="none"/>
<path d="M1569.5 1392 v22.22 M1569.5 2314 v-22.22" stroke="#000" stroke-width="2.78" fill="none"/>
<path d="M2130.5 1392 v22.22 M2130.5 2314 v-22.22" stroke="#000" stroke-width="2.78" fill="none"/>
<path d="M2691.5 1392 v22.22 M2691.5 2314 v-22.22" stroke="#000" stroke-width="2.78" fill="none"/>
<rect x="256" y="1392" width="2688" height="922" fill="none" stroke="#000" stroke-width="5.56"/>
<text stroke="#000" stroke-width="0.9" stroke-linejoin="round"><tspan x="925.56" y="107.29" font-size="93.69" textLength="66.36" lengthAdjust="spacingAndGlyphs">G</tspan><tspan x="994.64" y="107.31" font-size="91.53" textLength="52.33" lengthAdjust="spacingAndGlyphs">e</tspan><tspan x="1050.27" y="106.95" font-size="90.85" textLength="52.12" lengthAdjust="spacingAndGlyphs">n</tspan><tspan x="1105.67" y="107.31" font-size="91.53" textLength="52.33" lengthAdjust="spacingAndGlyphs">e</tspan><tspan> </tspan><tspan x="1189.14" y="106.95" font-size="90.85" textLength="83.3" lengthAdjust="spacingAndGlyphs">m</tspan><tspan x="1275.31" y="107.31" font-size="91.53" textLength="51.49" lengthAdjust="spacingAndGlyphs">o</tspan><tspan x="1329.61" y="107.31" font-size="92.45" textLength="52.62" lengthAdjust="spacingAndGlyphs">d</tspan><tspan x="1386.01" y="107.31" font-size="91.53" textLength="52.33" lengthAdjust="spacingAndGlyphs">e</tspan><tspan x="1442.74" y="106.95" font-size="91.96" textLength="17.91" lengthAdjust="spacingAndGlyphs">l</tspan><tspan> </tspan><tspan x="1493.18" y="106.95" font-size="92.08" textLength="31.49" lengthAdjust="spacingAndGlyphs">f</tspan><tspan x="1525.05" y="107.31" font-size="91.53" textLength="51.49" lengthAdjust="spacingAndGlyphs">o</tspan><tspan x="1579.17" y="106.95" font-size="90.85" textLength="36.73" lengthAdjust="spacingAndGlyphs">r</tspan><tspan> </tspan><tspan x="1645.56" y="107.29" font-size="93.69" textLength="51.81" lengthAdjust="spacingAndGlyphs">S</tspan><tspan x="1701.43" y="106.95" font-size="92.88" textLength="56.47" lengthAdjust="spacingAndGlyphs">B</tspan><tspan x="1762.9" y="107.29" font-size="93.69" textLength="51.07" lengthAdjust="spacingAndGlyphs">0</tspan><tspan x="1819.25" y="106.95" font-size="93.2" textLength="49.13" lengthAdjust="spacingAndGlyphs">2</tspan><tspan x="1874.44" y="107.29" font-size="93.69" textLength="66.36" lengthAdjust="spacingAndGlyphs">G</tspan><tspan x="1944.89" y="107.29" font-size="93.69" textLength="51.07" lengthAdjust="spacingAndGlyphs">0</tspan><tspan x="2002.59" y="107.29" font-size="93.69" textLength="48.99" lengthAdjust="spacingAndGlyphs">3</tspan><tspan x="2058.84" y="106.95" font-size="92.88" textLength="48.61" lengthAdjust="spacingAndGlyphs">1</tspan><tspan x="2115.39" y="106.95" font-size="92.88" textLength="48.61" lengthAdjust="spacingAndGlyphs">1</tspan><tspan x="2171.53" y="106.95" font-size="92.88" textLength="49.88" lengthAdjust="spacingAndGlyphs">7</tspan><tspan x="2227.67" y="107.29" font-size="93.69" textLength="51.07" lengthAdjust="spacingAndGlyphs">0</tspan></text>
<text stroke="#000" stroke-width="0.9" stroke-linejoin="round"><tspan x="1312.95" y="448.55" font-size="92.88" textLength="51.31" lengthAdjust="spacingAndGlyphs">P</tspan><tspan x="1362.16" y="448.91" font-size="91.53" textLength="43.48" lengthAdjust="spacingAndGlyphs">a</tspan><tspan x="1415.82" y="448.91" font-size="91.53" textLength="43.55" lengthAdjust="spacingAndGlyphs">c</tspan><tspan x="1465.27" y="448.55" font-size="92.88" textLength="56.47" lengthAdjust="spacingAndGlyphs">B</tspan><tspan x="1527.46" y="448.55" font-size="91.96" textLength="17.91" lengthAdjust="spacingAndGlyphs">i</tspan><tspan x="1550.19" y="448.91" font-size="91.53" textLength="51.49" lengthAdjust="spacingAndGlyphs">o</tspan><tspan> </tspan><tspan x="1633.37" y="448.55" font-size="92.88" textLength="72.71" lengthAdjust="spacingAndGlyphs">M</tspan><tspan x="1709.52" y="448.91" font-size="91.53" textLength="51.49" lengthAdjust="spacingAndGlyphs">o</tspan><tspan x="1763.82" y="448.91" font-size="92.45" textLength="52.62" lengthAdjust="spacingAndGlyphs">d</tspan><tspan x="1820.22" y="448.91" font-size="91.53" textLength="52.33" lengthAdjust="spacingAndGlyphs">e</tspan><tspan x="1876.94" y="448.55" font-size="91.96" textLength="17.91" lengthAdjust="spacingAndGlyphs">l</tspan></text>
<text stroke="#000" stroke-width="0.9" stroke-linejoin="round"><tspan x="1408.96" y="790.55" font-size="92.88" textLength="23.44" lengthAdjust="spacingAndGlyphs">I</tspan><tspan x="1436.74" y="790.91" font-size="91.77" textLength="41.57" lengthAdjust="spacingAndGlyphs">s</tspan><tspan x="1481.56" y="790.91" font-size="91.53" textLength="51.49" lengthAdjust="spacingAndGlyphs">o</tspan><tspan x="1535.37" y="790.55" font-size="92.08" textLength="31.49" lengthAdjust="spacingAndGlyphs">f</tspan><tspan x="1567.24" y="790.91" font-size="91.53" textLength="51.49" lengthAdjust="spacingAndGlyphs">o</tspan><tspan x="1621.36" y="790.55" font-size="90.85" textLength="36.73" lengthAdjust="spacingAndGlyphs">r</tspan><tspan x="1657.03" y="790.55" font-size="90.85" textLength="83.3" lengthAdjust="spacingAndGlyphs">m</tspan><tspan x="1744.69" y="790.91" font-size="91.77" textLength="41.57" lengthAdjust="spacingAndGlyphs">s</tspan></text>
<text stroke="#000" stroke-width="0.9" stroke-linejoin="round"><tspan x="1465.3" y="1363.55" font-size="92.88" textLength="60.3" lengthAdjust="spacingAndGlyphs">R</tspan><tspan x="1522.1" y="1363.91" font-size="91.53" textLength="52.33" lengthAdjust="spacingAndGlyphs">e</tspan><tspan x="1577.9" y="1363.91" font-size="91.53" textLength="43.48" lengthAdjust="spacingAndGlyphs">a</tspan><tspan x="1631.29" y="1363.91" font-size="92.45" textLength="52.62" lengthAdjust="spacingAndGlyphs">d</tspan><tspan x="1689.28" y="1363.91" font-size="91.77" textLength="41.57" lengthAdjust="spacingAndGlyphs">s</tspan></text>
<text stroke="#000" stroke-width="0.9" stroke-linejoin="round"><tspan x="279.53" y="2387.81" font-size="69.95" textLength="39.37" lengthAdjust="spacingAndGlyphs">6</tspan><tspan x="321.94" y="2387.81" font-size="69.95" textLength="39.37" lengthAdjust="spacingAndGlyphs">6</tspan><tspan x="365.67" y="2387.55" font-size="69.34" textLength="36.17" lengthAdjust="spacingAndGlyphs">1</tspan><tspan x="408.28" y="2387.81" font-size="69.72" textLength="35.83" lengthAdjust="spacingAndGlyphs">5</tspan><tspan x="450.72" y="2387.81" font-size="69.95" textLength="36.48" lengthAdjust="spacingAndGlyphs">3</tspan><tspan x="492.28" y="2387.81" font-size="69.95" textLength="38.04" lengthAdjust="spacingAndGlyphs">0</tspan><tspan x="534.69" y="2387.81" font-size="69.95" textLength="38.04" lengthAdjust="spacingAndGlyphs">0</tspan><tspan x="577.11" y="2387.81" font-size="69.95" textLength="38.04" lengthAdjust="spacingAndGlyphs">0</tspan></text>
<text stroke="#000" stroke-width="0.9" stroke-linejoin="round"><tspan x="840.53" y="2387.81" font-size="69.95" textLength="39.37" lengthAdjust="spacingAndGlyphs">6</tspan><tspan x="882.94" y="2387.81" font-size="69.95" textLength="39.37" lengthAdjust="spacingAndGlyphs">6</tspan><tspan x="926.67" y="2387.55" font-size="69.34" textLength="36.17" lengthAdjust="spacingAndGlyphs">1</tspan><tspan x="969.28" y="2387.81" font-size="69.72" textLength="35.83" lengthAdjust="spacingAndGlyphs">5</tspan><tspan x="1010.71" y="2387.55" font-size="69.58" textLength="36.58" lengthAdjust="spacingAndGlyphs">2</tspan><tspan x="1054.12" y="2387.81" font-size="69.72" textLength="35.83" lengthAdjust="spacingAndGlyphs">5</tspan><tspan x="1095.69" y="2387.81" font-size="69.95" textLength="38.04" lengthAdjust="spacingAndGlyphs">0</tspan><tspan x="1138.11" y="2387.81" font-size="69.95" textLength="38.04" lengthAdjust="spacingAndGlyphs">0</tspan></text>
<text stroke="#000" stroke-width="0.9" stroke-linejoin="round"><tspan x="1400.53" y="2387.81" font-size="69.95" textLength="39.37" lengthAdjust="spacingAndGlyphs">6</tspan><tspan x="1442.94" y="2387.81" font-size="69.95" textLength="39.37" lengthAdjust="spacingAndGlyphs">6</tspan><tspan x="1486.67" y="2387.55" font-size="69.34" textLength="36.17" lengthAdjust="spacingAndGlyphs">1</tspan><tspan x="1529.28" y="2387.81" font-size="69.72" textLength="35.83" lengthAdjust="spacingAndGlyphs">5</tspan><tspan x="1570.71" y="2387.55" font-size="69.58" textLength="36.58" lengthAdjust="spacingAndGlyphs">2</tspan><tspan x="1613.28" y="2387.81" font-size="69.95" textLength="38.04" lengthAdjust="spacingAndGlyphs">0</tspan><tspan x="1655.69" y="2387.81" font-size="69.95" textLength="38.04" lengthAdjust="spacingAndGlyphs">0</tspan><tspan x="1698.11" y="2387.81" font-size="69.95" textLength="38.04" lengthAdjust="spacingAndGlyphs">0</tspan></text>
<text stroke="#000" stroke-width="0.9" stroke-linejoin="round"><tspan x="1961.53" y="2387.81" font-size="69.95" textLength="39.37" lengthAdjust="spacingAndGlyphs">6</tspan><tspan x="2003.94" y="2387.81" font-size="69.95" textLength="39.37" lengthAdjust="spacingAndGlyphs">6</tspan><tspan x="2047.67" y="2387.55" font-size="69.34" textLength="36.17" lengthAdjust="spacingAndGlyphs">1</tspan><tspan x="2090.28" y="2387.81" font-size="69.72" textLength="35.83" lengthAdjust="spacingAndGlyphs">5</tspan><tspan x="2132.51" y="2387.55" font-size="69.34" textLength="36.17" lengthAdjust="spacingAndGlyphs">1</tspan><tspan x="2175.12" y="2387.81" font-size="69.72" textLength="35.83" lengthAdjust="spacingAndGlyphs">5</tspan><tspan x="2216.69" y="2387.81" font-size="69.95" textLength="38.04" lengthAdjust="spacingAndGlyphs">0</tspan><tspan x="2259.11" y="2387.81" font-size="69.95" textLength="38.04" lengthAdjust="spacingAndGlyphs">0</tspan></text>
<text stroke="#000" stroke-width="0.9" stroke-linejoin="round"><tspan x="2522.53" y="2387.81" font-size="69.95" textLength="39.37" lengthAdjust="spacingAndGlyphs">6</tspan><tspan x="2564.94" y="2387.81" font-size="69.95" textLength="39.37" lengthAdjust="spacingAndGlyphs">6</tspan><tspan x="2608.67" y="2387.55" font-size="69.34" textLength="36.17" lengthAdjust="spacingAndGlyphs">1</tspan><tspan x="2651.28" y="2387.81" font-size="69.72" textLength="35.83" lengthAdjust="spacingAndGlyphs">5</tspan><tspan x="2693.51" y="2387.55" font-size="69.34" textLength="36.17" lengthAdjust="spacingAndGlyphs">1</tspan><tspan x="2735.28" y="2387.81" font-size="69.95" textLength="38.04" lengthAdjust="spacingAndGlyphs">0</tspan><tspan x="2777.69" y="2387.81" font-size="69.95" textLength="38.04" lengthAdjust="spacingAndGlyphs">0</tspan><tspan x="2820.11" y="2387.81" font-size="69.95" textLength="38.04" lengthAdjust="spacingAndGlyphs">0</tspan></text>
</svg></body></html>
